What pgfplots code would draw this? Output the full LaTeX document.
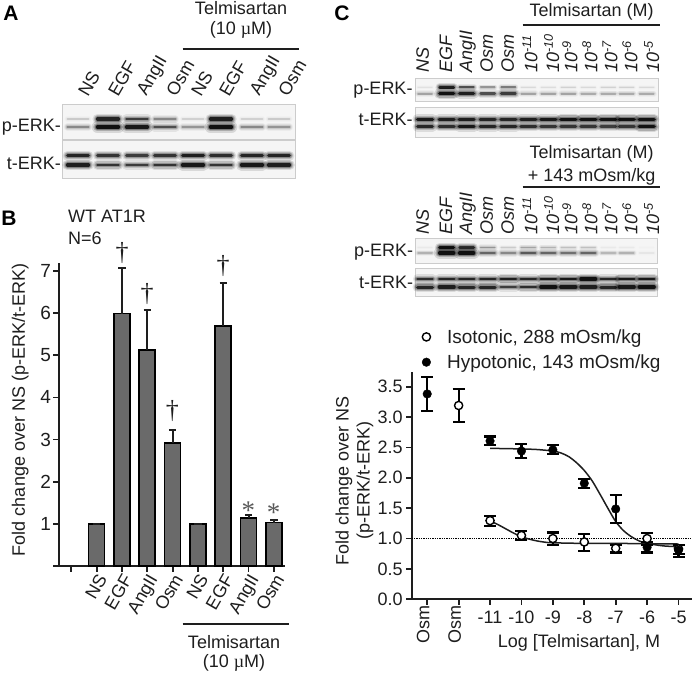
\documentclass[border=0pt]{standalone}
\usepackage{fontspec}
\setmainfont{Liberation Sans}
\newfontfamily\serifx{Liberation Serif}
\usepackage{pgfplots}
\pgfplotsset{compat=1.18}
\definecolor{ink}{HTML}{1E1E1E}
\definecolor{barfill}{HTML}{6A6A6A}
\newcommand\FS{\fontsize{18}{21}\selectfont}
\newcommand\T[4][]{\node[inner sep=0pt,text=ink,font=\FS,#1] at (axis cs:#2,#3) {#4};}
\newcommand\band[4]{%
 \foreach \xx/\oo in {#4}{%
  \pgfmathsetmacro\xa{\xx-#3}\pgfmathsetmacro\xb{\xx+#3}%
  \pgfmathsetmacro\ww{#2*(0.6+0.7*\oo)}%
  \foreach \sc/\op in {3.0/0.12,2.2/0.2,1.5/0.3,0.9/0.85}{%
   \pgfmathsetmacro\lw{\ww*\sc}\pgfmathsetmacro\aa{\oo*\op}%
   \edef\tmp{\noexpand\addplot[forget plot,no markers,black,line cap=round,line width=\lw pt,opacity=\aa] coordinates {(\xa,#1) (\xb,#1)};}\tmp
  }}}
\newcommand\frm[4]{\addplot[forget plot,no markers,fill=black!4,draw=black!20,line width=1pt] coordinates {(#1,#3)(#2,#3)(#2,#4)(#1,#4)} --cycle;}
\newcommand\rl[4]{\addplot[forget plot,no markers,ink,line width=2pt] coordinates {(#1,#3)(#2,#3)};}
\begin{document}
\begin{tikzpicture}[x=1pt,y=1pt]
\path[use as bounding box] (0,0) rectangle (693,675);
% overlay in reference pixel coordinates: blots, rules and panel text
\begin{axis}[at={(0pt,0pt)},anchor=south west,scale only axis,width=693pt,height=675pt,
  xmin=0,xmax=693,ymin=0,ymax=675,y dir=reverse,hide axis,clip=false]
% Panel A blots
\frm{62}{295}{104}{139.5}
\frm{62}{295}{140.7}{178.5}
\band{119}{2.8}{10.5}{78/.12,108/.85,137/.7,165/.35,193/.1,221/.9,252/.1,279/.12}
\band{127}{3}{10.5}{78/.35,108/1,137/.95,165/.6,193/.3,221/1,252/.35,279/.3}
\band{155.7}{2.7}{10.5}{78/.85,108/.75,137/.7,165/.75,193/.9,221/.8,252/.85,279/.85}
\band{165}{2.9}{10.5}{78/.9,108/.75,137/.7,165/.75,193/.95,221/.75,252/.95,279/.9}
% Panel C upper blots
\frm{415}{658}{78}{101}
\frm{415}{658}{107}{137}
\band{87.3}{2.3}{7}{425/.05,446.7/.9,466.7/.6,487.7/.3,508.3/.4,528.3/.08,548.3/.07,568.3/.1,588.3/.08,608.3/.1,626.7/.1,646.7/.08}
\band{93.7}{2.8}{7}{425/.25,446.7/1,466.7/.9,487.7/.6,508.3/.7,528.3/.25,548.3/.25,568.3/.25,588.3/.22,608.3/.22,626.7/.22,646.7/.22}
\band{119.3}{2.7}{7.5}{425/.95,446.7/.9,466.7/.9,487.7/.85,508.3/.85,528.3/.9,548.3/.95,568.3/1,588.3/1,608.3/1,626.7/1,646.7/1}
\band{126.7}{2.7}{7.5}{425/.85,446.7/.8,466.7/.95,487.7/.85,508.3/.85,528.3/.8,548.3/.75,568.3/.75,588.3/.75,608.3/.7,626.7/.75,646.7/1}
% Panel C lower blots
\frm{415}{657}{238}{263}
\frm{415}{657}{268}{296}
\band{247.5}{2.5}{7}{425/.03,446.7/1,466.7/.8,487.7/.3,508.3/.12,528.3/.25,548.3/.2,568.3/.15,588.3/.15,608.3/.03,626.7/.03,646.7/.01}
\band{253}{3}{7}{425/.2,446.7/1,466.7/1,487.7/.5,508.3/.35,528.3/.55,548.3/.5,568.3/.45,588.3/.5,608.3/.18,626.7/.2,646.7/.04}
\band{279}{2.6}{7.5}{425/.8,446.7/.85,466.7/.85,487.7/.85,508.3/.9,528.3/.85,548.3/.95,568.3/.95,588.3/1,608.3/.85,626.7/.95,646.7/.95}
\band{287}{2.8}{7.5}{425/.85,446.7/.9,466.7/.85,487.7/.85,508.3/.7,528.3/.8,548.3/1,568.3/.95,588.3/.9,608.3/.85,626.7/.95,646.7/1}
% rules
\rl{182.7}{299}{49.3}{}
\rl{182.7}{289}{624.3}{}
\rl{522.7}{660}{25.3}{}
\rl{522.7}{660}{187}{}
% Panel letters
\T[font=\fontsize{21}{24}\selectfont\bfseries,text=black]{11}{13}{A}
\T[font=\fontsize{21}{24}\selectfont\bfseries,text=black]{9}{218}{B}
\T[font=\fontsize{21}{24}\selectfont\bfseries,text=black]{342}{13}{C}
% Panel A text
\T{241}{8}{Telmisartan}
\T{241}{30}{(10 {\serifx µ}M)}
\T[anchor=east]{61}{127}{p-ERK-}
\T[anchor=east]{61}{163}{t-ERK-}
\T[rotate=60,anchor=west]{82.6}{94.7}{NS}
\T[rotate=60,anchor=west]{112.6}{94.7}{EGF}
\T[rotate=60,anchor=west]{142.6}{94.7}{AngII}
\T[rotate=60,anchor=west]{170.6}{94.7}{Osm}
\T[rotate=60,anchor=west]{195.6}{94.7}{NS}
\T[rotate=60,anchor=west]{223.6}{94.7}{EGF}
\T[rotate=60,anchor=west]{255.6}{94.7}{AngII}
\T[rotate=60,anchor=west]{282.6}{94.7}{Osm}
% Panel B text
\T[anchor=west]{68}{216}{WT AT1R}
\T[anchor=west]{68}{238}{N=6}
\T[font=\fontsize{26}{28}\serifx]{122}{253}{†}
\T[font=\fontsize{26}{28}\serifx]{147}{294}{†}
\T[font=\fontsize{26}{28}\serifx]{172.3}{411}{†}
\T[font=\fontsize{26}{28}\serifx]{223}{266}{†}
\T[font=\fontsize{27}{30}\serifx,text=black!65]{248.3}{511}{*}
\T[font=\fontsize{27}{30}\serifx,text=black!65]{273.7}{513}{*}
\T{234}{642}{Telmisartan}
\T{234}{663}{(10 {\serifx µ}M)}
% Panel C text
\T{591.7}{12.3}{Telmisartan (M)}
\T{591.7}{154}{Telmisartan (M)}
\T{591.7}{176.7}{+ 143 mOsm/kg}
\T[anchor=east]{412.7}{90}{p-ERK-}
\T[anchor=east]{412.7}{119.3}{t-ERK-}
\T[anchor=east]{413.3}{251.7}{p-ERK-}
\T[anchor=east]{413.3}{282.7}{t-ERK-}
\T[rotate=90,anchor=west]{422.7}{72.7}{\itshape NS}
\T[rotate=90,anchor=west]{446}{72.7}{\itshape EGF}
\T[rotate=90,anchor=west]{467.7}{72.7}{\itshape AngII}
\T[rotate=90,anchor=west]{486.7}{72.7}{\itshape Osm}
\T[rotate=90,anchor=west]{507.7}{72.7}{\itshape Osm}
\T[rotate=90,anchor=west]{530}{72.7}{\itshape 10\textsuperscript{-11}}
\T[rotate=90,anchor=west]{551.7}{72.7}{\itshape 10\textsuperscript{-10}}
\T[rotate=90,anchor=west]{570}{72.7}{\itshape 10\textsuperscript{-9}}
\T[rotate=90,anchor=west]{590}{72.7}{\itshape 10\textsuperscript{-8}}
\T[rotate=90,anchor=west]{610}{72.7}{\itshape 10\textsuperscript{-7}}
\T[rotate=90,anchor=west]{630}{72.7}{\itshape 10\textsuperscript{-6}}
\T[rotate=90,anchor=west]{651.7}{72.7}{\itshape 10\textsuperscript{-5}}
\T[rotate=90,anchor=west]{422.7}{235}{\itshape NS}
\T[rotate=90,anchor=west]{446}{235}{\itshape EGF}
\T[rotate=90,anchor=west]{467.7}{235}{\itshape AngII}
\T[rotate=90,anchor=west]{486.7}{235}{\itshape Osm}
\T[rotate=90,anchor=west]{507.7}{235}{\itshape Osm}
\T[rotate=90,anchor=west]{530}{235}{\itshape 10\textsuperscript{-11}}
\T[rotate=90,anchor=west]{551.7}{235}{\itshape 10\textsuperscript{-10}}
\T[rotate=90,anchor=west]{570}{235}{\itshape 10\textsuperscript{-9}}
\T[rotate=90,anchor=west]{590}{235}{\itshape 10\textsuperscript{-8}}
\T[rotate=90,anchor=west]{610}{235}{\itshape 10\textsuperscript{-7}}
\T[rotate=90,anchor=west]{630}{235}{\itshape 10\textsuperscript{-6}}
\T[rotate=90,anchor=west]{651.7}{235}{\itshape 10\textsuperscript{-5}}
\end{axis}
% Panel B bar chart
\begin{axis}[at={(58.7pt,109pt)},anchor=south west,scale only axis,width=226.3pt,height=303pt,
  xmin=-0.5,xmax=8.44,ymin=0,ymax=7.19,
  axis lines=left,axis line style={-,line width=1.8pt,ink},
  tick align=outside,tick style={line width=1.8pt,ink},major tick length=5.5pt,
  xtick={0,...,8},xticklabels={,NS,EGF,AngII,Osm,NS,EGF,AngII,Osm},
  ytick={0,...,7},yticklabels={,1,2,3,4,5,6,7},
  tick label style={font=\fontsize{19}{22}\selectfont,text=ink},
  xticklabel style={yshift=-1pt,rotate=60,anchor=north east,inner sep=0pt,font=\FS},
  yticklabel style={inner sep=2pt},
  ylabel={Fold change over NS (p-ERK/t-ERK)},
  every axis y label/.style={at={(axis description cs:-0.17,0.515)},rotate=90,anchor=center,font=\FS,text=ink},
  clip=false]
\addplot[ybar,bar width=16pt,bar shift=0pt,fill=barfill,draw=black,line width=1.6pt,
  error bars/.cd,y dir=plus,y explicit,
  error bar style={line width=2pt,ink},error mark options={rotate=90,mark size=3.7pt,line width=2pt,ink}]
 coordinates {
 (1,1) +- (0,0)
 (2,5.99) +- (0,1.09)
 (3,5.13) +- (0,0.94)
 (4,2.92) +- (0,0.30)
 (5,1) +- (0,0)
 (6,5.69) +- (0,1.03)
 (7,1.14) +- (0,0.06)
 (8,1.03) +- (0,0.07)
 };
\end{axis}
% Panel C dose-response
\begin{axis}[at={(411.7pt,75.7pt)},anchor=south west,scale only axis,width=280pt,height=227.6pt,
  xmin=-13.494,xmax=-4.58,ymin=0,ymax=3.746,
  axis lines=left,axis line style={-,line width=1.8pt,ink},
  tick align=outside,tick style={line width=1.8pt,ink},major tick length=5.5pt,
  xtick={-11,...,-5},xticklabels={-11,-10,-9,-8,-7,-6,-5},
  xticklabel style={yshift=-3pt},
  extra x ticks={-13,-12},extra x tick labels={Osm,Osm},
  extra x tick style={xticklabel style={yshift=2pt,xshift=-4pt,rotate=90,anchor=east,inner sep=0pt}},
  ytick={0,0.5,...,3.5},
  yticklabel style={/pgf/number format/.cd,fixed,fixed zerofill,precision=1,assume math mode=true},
  tick label style={font=\FS,text=ink},
  ylabel={Fold change over NS\\(p-ERK/t-ERK)},
  xlabel={Log [Telmisartan], M},
  every axis y label/.style={at={(axis description cs:-0.204,0.52)},rotate=90,anchor=center,align=center,font=\FS,text=ink},
  every axis x label/.style={at={(axis description cs:0.5975,-0.19)},anchor=center,font=\FS,text=ink},
  legend image code/.code={\draw[#1] plot coordinates {(8.5pt,0pt)}; \path (0pt,0pt) (27pt,0pt);},
  legend style={at={(axis description cs:0.0207,1.196)},anchor=north west,draw=none,fill=none,font=\fontsize{19}{22}\selectfont,text=ink,row sep=6pt,inner sep=0pt,cells={anchor=west}},
  clip=false]
\addplot[forget plot,no markers,densely dotted,line width=1.3pt,black] coordinates {(-13.494,1)(-4.58,1)};
\addplot[forget plot,no markers,smooth,line width=1.5pt,ink] coordinates {(-11,2.485)(-10.5,2.48)(-10,2.475)(-9.5,2.465)(-9,2.44)(-8.75,2.41)(-8.5,2.35)(-8.25,2.25)(-8,2.12)(-7.75,1.95)(-7.5,1.73)(-7.25,1.5)(-7,1.28)(-6.75,1.13)(-6.5,1.03)(-6.25,.96)(-6,.92)(-5.5,.88)(-5,.865)};
\addplot[forget plot,no markers,smooth,line width=1.5pt,ink] coordinates {(-11,1.29)(-10.75,1.23)(-10.5,1.16)(-10.25,1.09)(-10,1.03)(-9.75,.99)(-9.5,.96)(-9.25,.94)(-9,.93)(-8,.92)(-7,.92)(-6,.915)(-5,.91)};
\addplot[only marks,mark=*,mark size=4.1pt,mark options={fill=white,draw=black,line width=1.4pt},
  error bars/.cd,y dir=both,y explicit,error bar style={line width=2.2pt,black},
  error mark options={rotate=90,mark size=6pt,line width=2.2pt,black}]
 coordinates {
 (-12,3.19) += (0,.27) -= (0,.27)
 (-11,1.295) += (0,.075) -= (0,.085)
 (-10,1.05) += (0,.08) -= (0,.075)
 (-9,1.0) += (0,.10) -= (0,.11)
 (-8,.944) += (0,.126) -= (0,.144)
 (-7,.84) += (0,.05) -= (0,.07)
 (-6,1.0) += (0,.09) -= (0,.11)
 (-5,.83) += (0,.06) -= (0,.08)
 };
\addlegendentry{Isotonic, 288 mOsm/kg}
\addplot[only marks,mark=*,mark size=4.3pt,mark options={fill=black,draw=black},
  error bars/.cd,y dir=both,y explicit,error bar style={line width=2.2pt,black},
  error mark options={rotate=90,mark size=6pt,line width=2.2pt,black}]
 coordinates {
 (-13,3.38) += (0,.285) -= (0,.28)
 (-11,2.606) += (0,.074) -= (0,.066)
 (-10,2.44) += (0,.11) -= (0,.11)
 (-9,2.46) += (0,.08) -= (0,.07)
 (-8,1.91) += (0,.065) -= (0,.08)
 (-7,1.487) += (0,.23) -= (0,.225)
 (-6,.856) += (0,.085) -= (0,.086)
 (-5,.81) += (0,.08) -= (0,.12)
 };
\addlegendentry{Hypotonic, 143 mOsm/kg}
\end{axis}
\end{tikzpicture}
\end{document}
